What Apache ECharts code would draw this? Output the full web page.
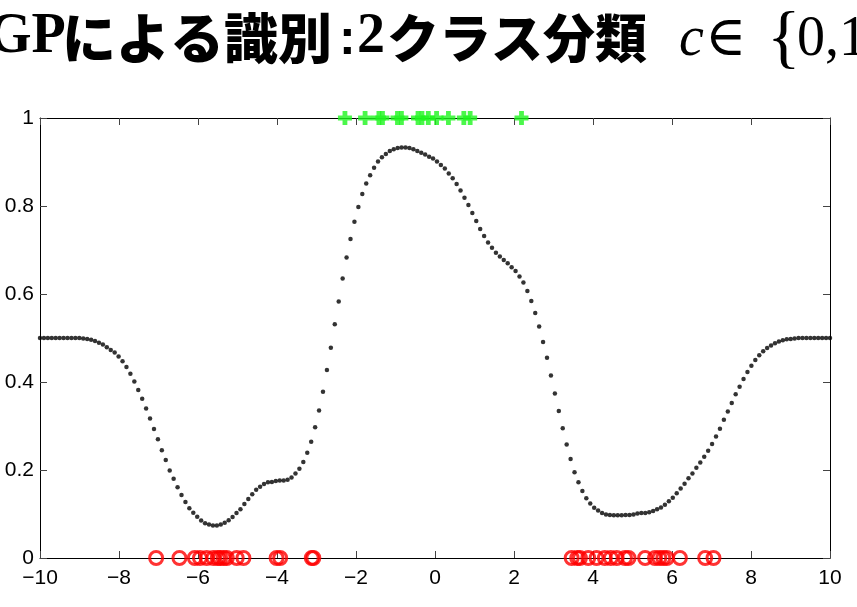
<!DOCTYPE html>
<html lang="ja">
<head>
    <meta charset="UTF-8">
    <title>GPによる識別</title>
    <style>
        html, body { margin: 0; padding: 0; background: #fff; }
        #main { width: 857px; height: 607px; }
    </style>
</head>
<body>
<div id="main"></div>
<script src="https://cdn.jsdelivr.net/npm/echarts@6/dist/echarts.min.js"></script>
<script>
    const curveValues = [
        0.5, 0.5, 0.5, 0.5, 0.5, 0.5, 0.5, 0.5, 0.5, 0.5,
        0.5, 0.499, 0.498, 0.496, 0.493, 0.489, 0.485, 0.479, 0.473, 0.467,
        0.458, 0.447, 0.434, 0.419, 0.401, 0.382, 0.362, 0.340, 0.317, 0.293,
        0.270, 0.245, 0.223, 0.199, 0.180, 0.161, 0.143, 0.127, 0.113, 0.103,
        0.094, 0.085, 0.079, 0.076, 0.074, 0.074, 0.076, 0.080, 0.086, 0.093,
        0.102, 0.111, 0.123, 0.134, 0.145, 0.155, 0.162, 0.168, 0.172, 0.173,
        0.175, 0.176, 0.176, 0.178, 0.183, 0.192, 0.203, 0.218, 0.239, 0.264,
        0.297, 0.335, 0.378, 0.427, 0.478, 0.531, 0.583, 0.635, 0.683, 0.725,
        0.764, 0.798, 0.827, 0.851, 0.870, 0.887, 0.901, 0.911, 0.918, 0.925,
        0.929, 0.932, 0.933, 0.933, 0.932, 0.929, 0.925, 0.921, 0.917, 0.912,
        0.908, 0.901, 0.893, 0.885, 0.874, 0.863, 0.850, 0.835, 0.819, 0.802,
        0.784, 0.766, 0.748, 0.732, 0.717, 0.705, 0.694, 0.685, 0.677, 0.670,
        0.661, 0.652, 0.640, 0.626, 0.607, 0.584, 0.557, 0.526, 0.491, 0.455,
        0.415, 0.374, 0.334, 0.295, 0.258, 0.225, 0.195, 0.172, 0.152, 0.136,
        0.124, 0.114, 0.108, 0.102, 0.099, 0.098, 0.097, 0.097, 0.097, 0.098,
        0.098, 0.099, 0.101, 0.102, 0.102, 0.104, 0.107, 0.111, 0.115, 0.121,
        0.129, 0.137, 0.147, 0.158, 0.169, 0.181, 0.192, 0.205, 0.217, 0.230,
        0.244, 0.259, 0.276, 0.294, 0.314, 0.333, 0.352, 0.372, 0.389, 0.407,
        0.423, 0.437, 0.450, 0.461, 0.470, 0.477, 0.483, 0.488, 0.492, 0.495,
        0.497, 0.498, 0.499, 0.5, 0.5, 0.5, 0.5, 0.5, 0.5, 0.5,
        0.5, 0.5
    ];
    const xStart = -10;
    const xEnd = 10;

    // class 1 training inputs (green +), class 0 training inputs (red o)
    const class1X = [-2.28, -1.77, -1.42, -1.33, -0.95, -0.85, -0.43, -0.33, -0.17, 0.04, 0.34, 0.73, 0.89, 2.19];
    const class0X = [
        -7.06, -6.47, -6.08, -5.95, -5.78, -5.61, -5.5, -5.44, -5.35, -5.27, -5.02, -4.85, -4.01, -3.92, -3.12, -3.08,
        3.46, 3.6, 3.67, 3.88, 4.09, 4.3, 4.45, 4.6, 4.81, 4.9, 5.32, 5.57, 5.68, 5.78, 5.87, 6.2, 6.84, 7.05
    ];

    const dom = document.getElementById('main');
    const myChart = echarts.init(dom, null, {renderer: 'canvas'});

    const step = (xEnd - xStart) / (curveValues.length - 1);
    const curveData = curveValues.map((v, i) => [xStart + i * step, v]);

    const minus = v => String(v).replace('-', '\u2212');
    const tickFont = {color: '#000', fontSize: 21, fontFamily: '"Liberation Sans", Arial, sans-serif'};
    const frameLine = {show: true, onZero: false, lineStyle: {color: '#000', width: 1}};
    const innerTick = {show: true, inside: true, length: 7, lineStyle: {color: '#444'}};

    const plusPath = 'path://M0,4.6H14V9.4H0Z M4.6,0H9.4V14H4.6Z';

    const option = {
        animation: false,
        backgroundColor: '#fff',
        grid: {left: 40, right: 27, top: 118, bottom: 49},
        xAxis: [{
            type: 'value', min: -10, max: 10, interval: 2, position: 'bottom',
            axisLine: frameLine, axisTick: innerTick, splitLine: {show: false},
            axisLabel: Object.assign({margin: 10, formatter: minus, showMinLabel: true, showMaxLabel: true}, tickFont)
        }, {
            type: 'value', min: -10, max: 10, interval: 2, position: 'top',
            axisLine: frameLine, axisTick: innerTick, splitLine: {show: false},
            axisLabel: {show: false}
        }],
        yAxis: [{
            type: 'value', min: 0, max: 1, interval: 0.2, position: 'left',
            axisLine: frameLine, axisTick: innerTick, splitLine: {show: false},
            axisLabel: Object.assign({margin: 6, showMinLabel: true, showMaxLabel: true}, tickFont)
        }, {
            type: 'value', min: 0, max: 1, interval: 0.2, position: 'right',
            axisLine: frameLine, axisTick: innerTick, splitLine: {show: false},
            axisLabel: {show: false}
        }],
        graphic: [
            {type: 'text', x: -12, y: 38, style: {text: 'GP', font: 'bold 56px "Liberation Serif"', fill: '#000', verticalAlign: 'middle'}},
            {type: 'text', x: 62, y: 38, style: {text: 'による識別', font: '900 54px "Noto Sans CJK JP"', fill: '#000', verticalAlign: 'middle'}},
            {type: 'text', x: 339, y: 40, style: {text: ':', font: 'bold 50px "Liberation Sans"', fill: '#000', verticalAlign: 'middle'}},
            {type: 'text', x: 357, y: 38, style: {text: '2', font: 'bold 56px "Liberation Serif"', fill: '#000', verticalAlign: 'middle'}},
            {type: 'text', x: 387, y: 38, style: {text: 'クラス分類', font: '900 52px "Noto Sans CJK JP"', fill: '#000', verticalAlign: 'middle'}},
            {type: 'text', x: 679, y: 40, style: {text: 'c', font: 'italic 56px "Liberation Serif"', fill: '#000', verticalAlign: 'middle'}},
            {type: 'text', x: 705, y: 40, style: {text: '\u2208', font: '56px "DejaVu Serif"', fill: '#000', verticalAlign: 'middle'}},
            {type: 'text', x: 767, y: 42, style: {text: '{', font: '70px "Liberation Serif"', fill: '#000', verticalAlign: 'middle'}},
            {type: 'text', x: 797, y: 40, style: {text: '0,1', font: '56px "Liberation Serif"', fill: '#000', verticalAlign: 'middle'}}
        ],
        series: [{
            name: 'p(c=1|x)',
            type: 'scatter',
            data: curveData,
            symbol: 'circle',
            symbolSize: 4.5,
            itemStyle: {color: '#000'},
            clip: false,
            z: 3
        }, {
            name: 'c=1',
            type: 'scatter',
            data: class1X.map(x => [x, 1]),
            symbol: plusPath,
            symbolSize: 14,
            itemStyle: {color: '#1ef51e'},
            clip: false,
            z: 4
        }, {
            name: 'c=0',
            type: 'scatter',
            data: class0X.map(x => [x, 0]),
            symbol: 'circle',
            symbolSize: 13,
            itemStyle: {color: 'rgba(0,0,0,0)', borderColor: '#ff0000', borderWidth: 3},
            clip: false,
            z: 4
        }]
    };

    myChart.setOption(option);
</script>
</body>
</html>
